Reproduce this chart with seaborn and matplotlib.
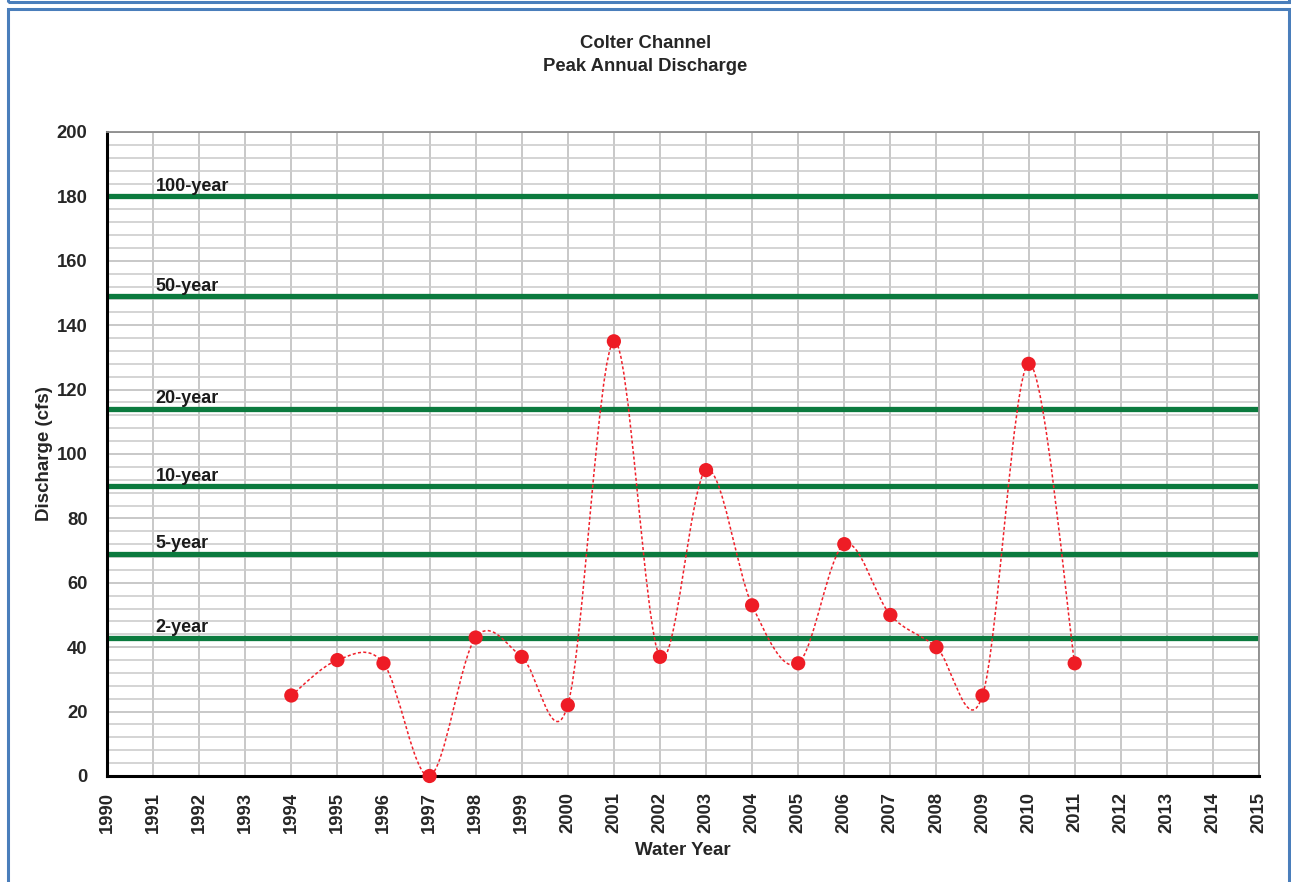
import matplotlib
matplotlib.use("Agg")
import matplotlib.pyplot as plt
from matplotlib.patches import Rectangle, PathPatch
from matplotlib.path import Path
from matplotlib.ticker import MultipleLocator
import pandas as pd
import seaborn as sns

# Peak annual discharge (cfs)
years = [1994, 1995, 1996, 1997, 1998, 1999, 2000, 2001, 2002,
         2003, 2004, 2005, 2006, 2007, 2008, 2009, 2010, 2011]
discharge = [25, 36, 35, 0, 43, 37, 22, 135, 37,
             95, 53, 35, 72, 50, 40, 25, 128, 35]

# Return-period flows
return_labels = ["100-year", "50-year", "20-year", "10-year", "5-year", "2-year"]
return_flows = [180, 149, 114, 90, 69, 43]

xticks = list(range(1990, 2016))

df = pd.DataFrame({"year": years, "discharge": discharge})

sns.set_style("white")
plt.rcParams["font.family"] = ["Liberation Sans", "DejaVu Sans"]


def smooth_path(xs, ys):
    # Excel-like smoothed line: cubic Bezier through every point
    pts = list(zip(xs, ys))
    verts = [pts[0]]
    codes = [Path.MOVETO]
    n = len(pts)
    for i in range(n - 1):
        p0 = pts[i - 1] if i > 0 else pts[i]
        p1 = pts[i]
        p2 = pts[i + 1]
        p3 = pts[i + 2] if i + 2 < n else pts[i + 1]
        c1 = (p1[0] + (p2[0] - p0[0]) / 6, p1[1] + (p2[1] - p0[1]) / 6)
        c2 = (p2[0] - (p3[0] - p1[0]) / 6, p2[1] - (p3[1] - p1[1]) / 6)
        verts += [c1, c2, p2]
        codes += [Path.CURVE4] * 3
    return Path(verts, codes)


fig = plt.figure(figsize=(12.91, 8.82), dpi=100)
ax = fig.add_axes([107 / 1291, 1 - 776 / 882, (1259 - 107) / 1291, (776 - 132) / 882])

# outer chart frame (Excel-style)
fig.patches.append(Rectangle((8 / 1291, -0.01), (1289 - 8) / 1291, 1.01 - 9 / 882,
                             transform=fig.transFigure, fill=False,
                             edgecolor="#4a7ebb", linewidth=2.2))
fig.patches.append(Rectangle((8 / 1291, 1 - 2 / 882), (1289 - 8) / 1291, 0.01,
                             transform=fig.transFigure, fill=False,
                             edgecolor="#4a7ebb", linewidth=2.2, clip_on=False))

ax.set_xlim(1990, 2015)
ax.set_ylim(0, 200)
ax.xaxis.set_major_locator(MultipleLocator(1))
ax.yaxis.set_major_locator(MultipleLocator(20))
ax.yaxis.set_minor_locator(MultipleLocator(4))
ax.grid(True, which="major", color="#c8c8c8", linewidth=1.4)
ax.grid(True, which="minor", color="#cdcdcd", linewidth=1.2)
ax.set_axisbelow(True)

for y, lab in zip(return_flows, return_labels):
    ax.axhline(y, color="#0b7a3e", linewidth=3.8, zorder=2)
    ax.text(1991.05, y + 0.5, lab, fontsize=13, fontweight="bold",
            color="#1a1a1a", ha="left", va="bottom", zorder=3)

ax.add_patch(PathPatch(smooth_path(years, discharge), facecolor="none",
                       edgecolor="#f0202a", linewidth=1.1, linestyle=(0, (2, 1.5)),
                       zorder=4))
sns.scatterplot(data=df, x="year", y="discharge", ax=ax, color="#ee1c25",
                s=105, edgecolor="none", zorder=5, clip_on=False)

ax.set_xticks(xticks)
ax.set_xticklabels([str(x) for x in xticks], rotation=90)
ax.tick_params(axis="both", which="major", direction="out", length=4.5, width=2,
               color="black", labelsize=13.3)
ax.tick_params(axis="y", which="major", pad=9.5)
ax.tick_params(axis="x", which="major", pad=7)
ax.tick_params(axis="both", which="minor", length=0)
for lab in ax.get_xticklabels() + ax.get_yticklabels():
    lab.set_fontweight("bold")

for side in ["left", "bottom"]:
    ax.spines[side].set_color("black")
    ax.spines[side].set_linewidth(2.2)
for side in ["top", "right"]:
    ax.spines[side].set_color("#8c8c8c")
    ax.spines[side].set_linewidth(1.3)

ax.set_xlabel("Water Year", fontsize=13.5, fontweight="bold", labelpad=6.5)
ax.set_ylabel("Discharge (cfs)", fontsize=13.5, fontweight="bold", labelpad=3)
fig.text(0.5, 1 - 55 / 882, "Colter Channel\nPeak Annual Discharge", ha="center",
         va="center", fontsize=13.3, fontweight="bold", linespacing=1.4)

fig.savefig("out.png", dpi=100)
